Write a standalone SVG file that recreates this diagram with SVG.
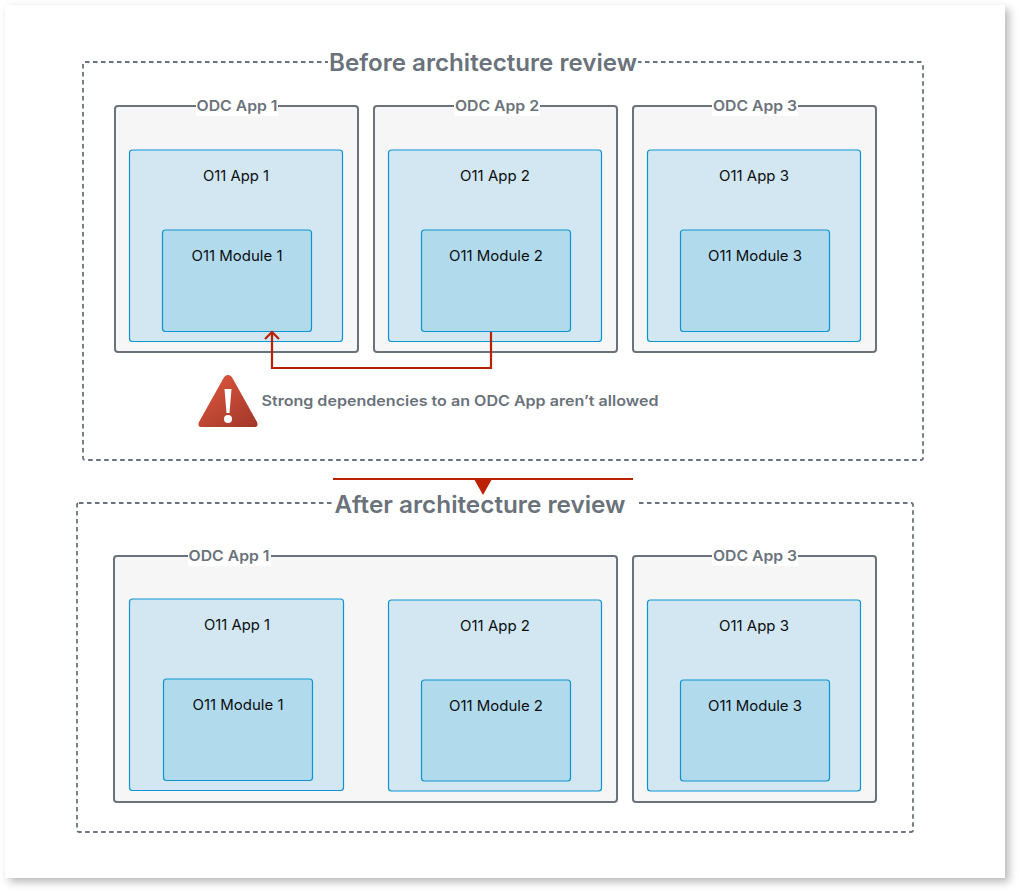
<svg xmlns="http://www.w3.org/2000/svg" width="1020" height="893" viewBox="0 0 1020 893">
<style>
text{font-family:"Inter","Liberation Sans",sans-serif;text-anchor:middle}
.frame{fill:none;stroke:#6a727b;stroke-width:1.8;stroke-dasharray:4.500 3.500}
.title{font-size:24px;font-weight:600;fill:#6a727b}
.odc{fill:#f6f6f7;stroke:#6a727b;stroke-width:2}
.odcl{font-size:14.5px;font-weight:600;fill:#6a727b}
.app{fill:#d2e7f2;stroke:#0d95d3;stroke-width:1.200}
.mod{fill:#b1daed;stroke:#0d95d3;stroke-width:1.200}
.lbl{font-size:14.5px;fill:#0b0d10}
.mask{fill:#fff}
.conn{fill:none;stroke:#bb2100;stroke-width:2.200}
</style>
<defs>
<filter id="sh" x="-5%" y="-5%" width="110%" height="110%"><feDropShadow dx="4" dy="4" stdDeviation="4" flood-color="#000" flood-opacity="0.28"/></filter>
<linearGradient id="warn" x1="0.2" y1="0.2" x2="0.9" y2="1"><stop offset="0" stop-color="#d4523a"/><stop offset="1" stop-color="#a3382a"/></linearGradient>
</defs>
<rect width="1020" height="893" fill="#fff"/>
<rect x="5" y="5" width="1000" height="873" fill="#fff" filter="url(#sh)"/>

<g id="frame-before">
<rect class="frame" x="83" y="62" width="840" height="398" rx="2"/>
<rect class="mask" x="328" y="48" width="310" height="28"/>
<text class="title" x="483" y="71" textLength="308" lengthAdjust="spacingAndGlyphs">Before architecture review</text>
</g>
<g id="frame-after">
<rect class="frame" x="77" y="503" width="836" height="329" rx="2"/>
<rect class="mask" x="332" y="490" width="304" height="28"/>
<text class="title" x="480" y="513" textLength="291" lengthAdjust="spacingAndGlyphs">After architecture review</text>
</g>

<g id="before-odc-1">
<rect class="odc" x="115" y="106" width="243" height="246" rx="3"/>
<rect class="mask" x="196" y="100" width="82" height="16"/>
<text class="odcl" x="237" y="111" textLength="81" lengthAdjust="spacingAndGlyphs">ODC App 1</text>
</g>
<g id="before-o11-app-1">
<rect class="app" x="129.500" y="150" width="213" height="191.500" rx="3"/>
<text class="lbl" x="236" y="181" textLength="66" lengthAdjust="spacingAndGlyphs">O11 App 1</text>
</g>
<g id="before-o11-module-1">
<rect class="mod" x="162.500" y="230" width="149" height="101.500" rx="3"/>
<text class="lbl" x="237" y="261" textLength="91" lengthAdjust="spacingAndGlyphs">O11 Module 1</text>
</g>

<g id="before-odc-2">
<rect class="odc" x="374" y="106" width="243" height="246" rx="3"/>
<rect class="mask" x="454" y="100" width="86" height="16"/>
<text class="odcl" x="497" y="111" textLength="84" lengthAdjust="spacingAndGlyphs">ODC App 2</text>
</g>
<g id="before-o11-app-2">
<rect class="app" x="388.500" y="150" width="213" height="191.500" rx="3"/>
<text class="lbl" x="495" y="181" textLength="70" lengthAdjust="spacingAndGlyphs">O11 App 2</text>
</g>
<g id="before-o11-module-2">
<rect class="mod" x="421.500" y="230" width="149" height="101.500" rx="3"/>
<text class="lbl" x="496" y="261" textLength="94" lengthAdjust="spacingAndGlyphs">O11 Module 2</text>
</g>

<g id="before-odc-3">
<rect class="odc" x="633" y="106" width="243" height="246" rx="3"/>
<rect class="mask" x="712" y="100" width="86" height="16"/>
<text class="odcl" x="755" y="111" textLength="84" lengthAdjust="spacingAndGlyphs">ODC App 3</text>
</g>
<g id="before-o11-app-3">
<rect class="app" x="647.500" y="150" width="213" height="191.500" rx="3"/>
<text class="lbl" x="754" y="181" textLength="70" lengthAdjust="spacingAndGlyphs">O11 App 3</text>
</g>
<g id="before-o11-module-3">
<rect class="mod" x="680.500" y="230" width="149" height="101.500" rx="3"/>
<text class="lbl" x="755" y="261" textLength="94" lengthAdjust="spacingAndGlyphs">O11 Module 3</text>
</g>

<g id="warning">
<path d="M228 375 Q231 375 233 379 L257 422 Q259 427 254 427 L202 427 Q197 427 199 422 L223 379 Q225 375 228 375Z" fill="url(#warn)"/>
<path d="M224.500 389 L231.500 389 L229.500 413 L226.500 413Z" fill="#fff"/>
<circle cx="228" cy="419" r="4" fill="#fff"/>
<text x="460" y="406" font-size="14.500" font-weight="600" fill="#6a727b" textLength="397" lengthAdjust="spacingAndGlyphs">Strong dependencies to an ODC App aren’t allowed</text>
</g>

<g id="after-odc-1">
<rect class="odc" x="114" y="556" width="503" height="246" rx="3"/>
<rect class="mask" x="188" y="550" width="83" height="16"/>
<text class="odcl" x="229" y="561" textLength="81" lengthAdjust="spacingAndGlyphs">ODC App 1</text>
</g>
<g id="after-o11-app-1">
<rect class="app" x="129.500" y="599" width="214" height="191.500" rx="3"/>
<text class="lbl" x="237" y="630" textLength="66" lengthAdjust="spacingAndGlyphs">O11 App 1</text>
</g>
<g id="after-o11-module-1">
<rect class="mod" x="163.500" y="679" width="149" height="101.500" rx="3"/>
<text class="lbl" x="238" y="710" textLength="91" lengthAdjust="spacingAndGlyphs">O11 Module 1</text>
</g>
<g id="after-o11-app-2">
<rect class="app" x="388.500" y="600" width="213" height="191" rx="3"/>
<text class="lbl" x="495" y="631" textLength="70" lengthAdjust="spacingAndGlyphs">O11 App 2</text>
</g>
<g id="after-o11-module-2">
<rect class="mod" x="421.500" y="680" width="149" height="101" rx="3"/>
<text class="lbl" x="496" y="711" textLength="94" lengthAdjust="spacingAndGlyphs">O11 Module 2</text>
</g>
<g id="after-odc-3">
<rect class="odc" x="633" y="556" width="243" height="246" rx="3"/>
<rect class="mask" x="712" y="550" width="86" height="16"/>
<text class="odcl" x="755" y="561" textLength="84" lengthAdjust="spacingAndGlyphs">ODC App 3</text>
</g>
<g id="after-o11-app-3">
<rect class="app" x="647.500" y="600" width="213" height="191" rx="3"/>
<text class="lbl" x="754" y="631" textLength="70" lengthAdjust="spacingAndGlyphs">O11 App 3</text>
</g>
<g id="after-o11-module-3">
<rect class="mod" x="680.500" y="680" width="149" height="101" rx="3"/>
<text class="lbl" x="755" y="711" textLength="94" lengthAdjust="spacingAndGlyphs">O11 Module 3</text>
</g>

<g id="connectors">
<path class="conn" d="M491 332 V368 H272 V333"/>
<path class="conn" d="M265 339 L272 332 L279 339"/>
<path d="M333 479 H633" fill="none" stroke="#bb2100" stroke-width="2.200"/>
<path d="M474 479 H492 L483 495Z" fill="#bb2100"/>
</g>
</svg>
